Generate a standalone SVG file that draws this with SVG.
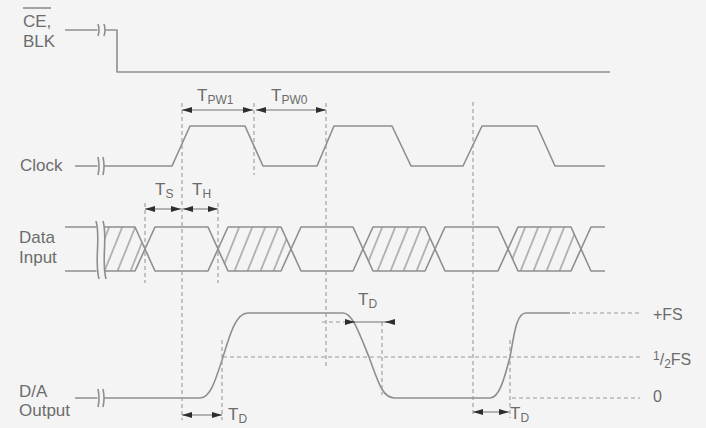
<svg xmlns="http://www.w3.org/2000/svg" width="706" height="428" viewBox="0 0 706 428">
<defs>
<style>
.bg{fill:#f4f4f4}
.w{fill:none;stroke:#8e8e8e;stroke-width:1.6;stroke-linejoin:round}
.d{fill:none;stroke:#9a9a9a;stroke-width:1.1;stroke-dasharray:4 3}
.a{fill:none;stroke:#707070;stroke-width:1.1}
.da{fill:none;stroke:#707070;stroke-width:1.1;marker-start:url(#ah);marker-end:url(#ah)}
.h{fill:url(#hatch);stroke:none}
text{font-family:"Liberation Sans",Arial,sans-serif;fill:#6c6c6c;font-size:17px}
.lbl{font-size:16px}
.sub{font-size:12px}
</style>
<marker id="ah" viewBox="0 0 10 6" refX="10" refY="3" markerWidth="10" markerHeight="6" markerUnits="userSpaceOnUse" orient="auto-start-reverse">
<path d="M0,0 L10,3 L0,6 Z" fill="#2e2e2e"/>
</marker>
<marker id="ah1" viewBox="0 0 10 6" refX="10" refY="3" markerWidth="10" markerHeight="6" markerUnits="userSpaceOnUse" orient="auto">
<path d="M0,0 L10,3 L0,6 Z" fill="#2e2e2e"/>
</marker>
<pattern id="hatch" patternUnits="userSpaceOnUse" width="13" height="10" patternTransform="skewX(-22)">
<line x1="6" y1="-1" x2="6" y2="11" stroke="#8e8e8e" stroke-width="1.3"/>
</pattern>
</defs>
<rect class="bg" x="0" y="0" width="706" height="428"/>

<g id="ce-blk">
<text x="23" y="27">CE,</text>
<line x1="23" y1="8" x2="51" y2="8" stroke="#6c6c6c" stroke-width="1.2"/>
<text x="23" y="47">BLK</text>
<path class="w" d="M65,30 H97.5 M105.5,30 H117 V72 H610"/>
<path class="w" d="M98,24 Q100,30 98,36 M104,24 Q106,30 104,36"/>
</g>

<g id="clock">
<text x="20" y="171">Clock</text>
<path class="w" d="M75,166 H97.5 M104,166 H172 L190,126 H245 L263,166 H317 L334,126 H392 L411,166 H463 L482,126 H537 L555,166 H605"/>
<path class="w" d="M98,157 Q100,166 98,175 M103,157 Q105,166 103,175"/>
</g>

<g id="data-input">
<text x="19" y="243">Data</text>
<text x="19" y="263">Input</text>
<path class="h" d="M104,227 H135 L145,249 L135,271 H104 C100,260 106,238 104,227 Z"/>
<path class="h" d="M218,249 L228,227 H281 L291,249 L281,271 H228 Z"/>
<path class="h" d="M363,249 L373,227 H425 L435,249 L425,271 H373 Z"/>
<path class="h" d="M508,249 L518,227 H571 L581,249 L571,271 H518 Z"/>
<path class="w" d="M65,227 H96.5 M65,271 H96.5"/>
<path class="w" d="M96,221 C101,238 94,260 99,279 M103,221 C108,238 101,260 106,279"/>
<path class="w" d="M104,227 H135 L145,249 L135,271 H104"/>
<path class="w" d="M145,249 L155,227 H208 L218,249 L208,271 H155 Z"/>
<path class="w" d="M218,249 L228,227 H281 L291,249 L281,271 H228 Z"/>
<path class="w" d="M291,249 L301,227 H353 L363,249 L353,271 H301 Z"/>
<path class="w" d="M363,249 L373,227 H425 L435,249 L425,271 H373 Z"/>
<path class="w" d="M435,249 L445,227 H498 L508,249 L498,271 H445 Z"/>
<path class="w" d="M508,249 L518,227 H571 L581,249 L571,271 H518 Z"/>
<path class="w" d="M605,227 H591 L581,249 L591,271 H605"/>
</g>

<g id="da-output">
<text x="19" y="397">D/A</text>
<text x="19" y="416">Output</text>
<path class="w" d="M75,398 H97.5 M104,398 H200 C210,398 215,382 223,357 C230,334 236,313 248,313 H343 C352,313 358,330 369,357 C379,385 383,398 395,398 H490 C499,398 504,380 510,357 C514,336 516,313 526,313 H570"/>
<path class="w" d="M98,389 Q100,398 98,407 M103,389 Q105,398 103,407"/>
<text class="lbl" x="653" y="320">+FS</text>
<text class="lbl" x="653" y="365"><tspan class="sub" dy="-5">1</tspan><tspan dy="5">/</tspan><tspan class="sub" dy="3">2</tspan><tspan dy="-3">FS</tspan></text>
<text class="lbl" x="653" y="402">0</text>
</g>

<g id="connectors">
<line class="d" x1="182" y1="103" x2="182" y2="420"/>
<line class="d" x1="254" y1="103" x2="254" y2="175"/>
<line class="d" x1="326" y1="103" x2="326" y2="368"/>
<line class="d" x1="473" y1="102" x2="473" y2="416"/>
<line class="d" x1="145" y1="203" x2="145" y2="283"/>
<line class="d" x1="218" y1="203" x2="218" y2="283"/>
<line class="d" x1="222" y1="340" x2="222" y2="420"/>
<line class="d" x1="382" y1="322" x2="382" y2="395"/>
<line class="d" x1="510" y1="340" x2="510" y2="418"/>
<line class="d" x1="223" y1="357" x2="640" y2="357"/>
<line class="d" x1="572" y1="313" x2="640" y2="313"/>
<line class="d" x1="512" y1="398" x2="640" y2="398"/>
<line class="d" x1="322" y1="322" x2="345" y2="322"/>

<line class="da" x1="182" y1="110" x2="253" y2="110"/>
<line class="da" x1="256" y1="110" x2="326" y2="110"/>
<line class="da" x1="145" y1="209" x2="181" y2="209"/>
<line class="da" x1="183" y1="209" x2="218" y2="209"/>
<line class="da" x1="182" y1="415" x2="222" y2="415"/>
<line class="da" x1="473" y1="412" x2="509" y2="412"/>
<line class="a" x1="345" y1="322" x2="395" y2="322"/>
<line class="a" x1="345" y1="322" x2="355" y2="322" marker-end="url(#ah1)"/>
<line class="a" x1="395" y1="322" x2="385" y2="322" marker-end="url(#ah1)"/>

<text x="197" y="101">T<tspan class="sub" dy="3">PW1</tspan></text>
<text x="271" y="101">T<tspan class="sub" dy="3">PW0</tspan></text>
<text x="155" y="195">T<tspan class="sub" dy="3">S</tspan></text>
<text x="192" y="195">T<tspan class="sub" dy="3">H</tspan></text>
<text x="228" y="420">T<tspan class="sub" dy="3">D</tspan></text>
<text x="358" y="305">T<tspan class="sub" dy="3">D</tspan></text>
<text x="510" y="419">T<tspan class="sub" dy="3">D</tspan></text>
</g>
</svg>
